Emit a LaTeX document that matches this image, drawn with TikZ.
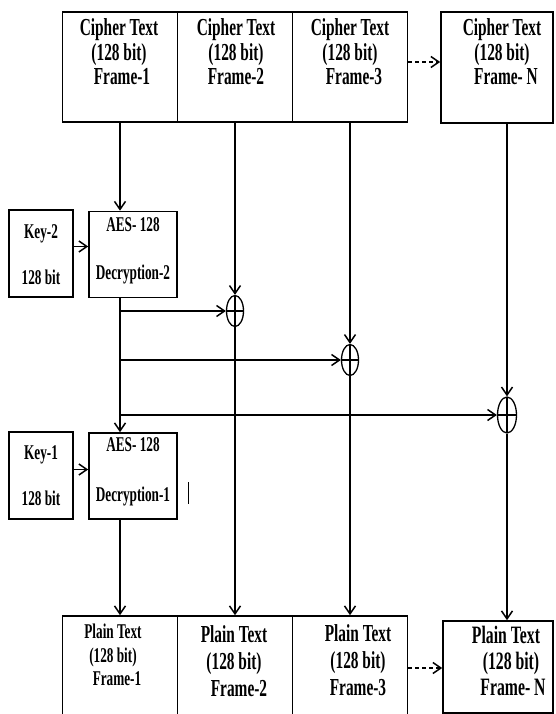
\documentclass[tikz,border=0pt]{standalone}
\usepackage{fontspec}
\newfontfamily\tnr{Liberation Serif}[FakeStretch=0.63]
\usetikzlibrary{arrows.meta,shapes.geometric}

\begin{document}
\begin{tikzpicture}[x=1pt, y=-1pt,
    framebox/.style={draw, line width=1.6pt, inner sep=0pt, minimum width=115pt, minimum height=110pt},
    keybox/.style={draw, line width=1.6pt, inner sep=0pt, minimum width=64pt, minimum height=87pt},
    aesbox/.style={draw, line width=1.6pt, inner sep=0pt, minimum width=88pt, minimum height=86pt},
    xorsym/.style={draw, ellipse, line width=1.3pt, inner sep=0pt, minimum width=17pt, minimum height=31pt,
        path picture={\draw[line width=1.3pt] (path picture bounding box.north) -- (path picture bounding box.south)
            (path picture bounding box.west) -- (path picture bounding box.east);}},
    txt/.style={align=center, inner sep=0pt, font=\tnr\bfseries\fontsize{24.4}{24.5}\selectfont},
    smalltxt/.style={align=center, inner sep=0pt, font=\tnr\bfseries\fontsize{21}{46}\selectfont},
    arr/.style={line width=1.5pt, -{Straight Barb[length=8pt, width=11pt]}},
    dasharr/.style={arr, dash pattern=on 4pt off 3pt}]

    \useasboundingbox (0,0) rectangle (555,714);

    % Cipher text frames
    \node[framebox] (ct1) at (120,67) {};
    \node[framebox] (ct2) at (235,67) {};
    \node[framebox] (ct3) at (350,67) {};
    \node[framebox, minimum width=112pt, minimum height=111pt] (ctN) at (497,67.5) {};
    \node[txt] (ct1t) at (119,52) {Cipher Text\\(128 bit)\\\hspace*{6pt}Frame-1};
    \node[txt] (ct2t) at (236,52) {Cipher Text\\(128 bit)\\Frame-2};
    \node[txt] (ct3t) at (350,52) {Cipher Text\\(128 bit)\\\hspace*{8pt}Frame-3};
    \node[txt] (ctNt) at (502,52) {Cipher Text\\(128 bit)\\\hspace*{8pt}Frame- N};

    % Keys and AES blocks
    \node[keybox] (key2) at (41,253.5) {};
    \node[aesbox] (aes2) at (133,254.5) {};
    \node[keybox] (key1) at (41,475.5) {};
    \node[aesbox] (aes1) at (133,476) {};
    \node[smalltxt] (key2t) at (41,254.5) {Key-2\\128 bit};
    \node[smalltxt, font=\tnr\bfseries\fontsize{21}{48}\selectfont] (aes2t) at (133,251) {AES- 128\\Decryption-2};
    \node[smalltxt] (key1t) at (41,475.5) {Key-1\\128 bit};
    \node[smalltxt, font=\tnr\bfseries\fontsize{21}{50}\selectfont] (aes1t) at (133,472) {AES- 128\\Decryption-1};

    % XOR gates
    \node[xorsym] (x1) at (235,311) {};
    \node[xorsym] (x2) at (350,360) {};
    \node[xorsym, minimum width=19pt, minimum height=36pt] (x3) at (507,415) {};

    % Plain text frames
    \node[framebox, minimum height=104pt] (pt1) at (120,668) {};
    \node[framebox, minimum height=104pt] (pt2) at (235,668) {};
    \node[framebox, minimum height=104pt] (pt3) at (350,668) {};
    \node[framebox, minimum width=110pt, minimum height=92pt] (ptN) at (498,667) {};
    \node[txt, font=\tnr\bfseries\fontsize{21}{23.5}\selectfont] (pt1t) at (113,655) {Plain Text\\(128 bit)\\\hspace*{8pt}Frame-1};
    \node[txt, font=\tnr\bfseries\fontsize{24.4}{27}\selectfont] (pt2t) at (234,661) {Plain Text\\(128 bit)\\\hspace*{10pt}Frame-2};
    \node[txt, font=\tnr\bfseries\fontsize{24.4}{27}\selectfont] (pt3t) at (358,660) {Plain Text\\(128 bit)\\Frame-3};
    \node[txt, font=\tnr\bfseries\fontsize{25}{26}\selectfont] (ptNt) at (506,661) {Plain Text\\\hspace*{10pt}(128 bit)\\\hspace*{14pt}Frame- N};

    % Frame-1 path through both decryptions
    \draw[arr] (ct1.south) -- (ct1.south |- aes2.north);
    \coordinate (k2o) at ([yshift=7pt]key2.east);
    \draw[arr] (k2o) -- (k2o -| aes2.west);
    \draw[arr] (ct1.south |- aes2.south) -- (ct1.south |- aes1.north);
    \coordinate (k1o) at ([yshift=6pt]key1.east);
    \draw[arr] (k1o) -- (k1o -| aes1.west);
    \draw[arr] (ct1.south |- aes1.south) -- (ct1.south |- pt1.north);

    % Branches to the XOR gates
    \draw[arr] (ct1.south |- x1.west) -- (x1.west);
    \draw[arr] (ct1.south |- x2.west) -- (x2.west);
    \draw[arr] (ct1.south |- x3.west) -- (x3.west);

    % Other frames
    \draw[arr] (ct2.south) -- (x1.north);
    \draw[arr] (x1.south) -- (x1.south |- pt2.north);
    \draw[arr] (ct3.south) -- (x2.north);
    \draw[arr] (x2.south) -- (x2.south |- pt3.north);
    \draw[arr] (x3.north |- ctN.south) -- (x3.north);
    \draw[arr] (x3.south) -- (x3.south |- ptN.north);

    % Dots to Frame-N
    \coordinate (d1) at ([yshift=5pt]ct3.east);
    \draw[dasharr] (d1) -- (d1 -| ctN.west);
    \draw[dasharr] (pt3.east) -- (pt3.east -| ptN.west);

    % Stray mark
    \draw[line width=1pt] (188,482) -- (188,504);
\end{tikzpicture}
\end{document}
